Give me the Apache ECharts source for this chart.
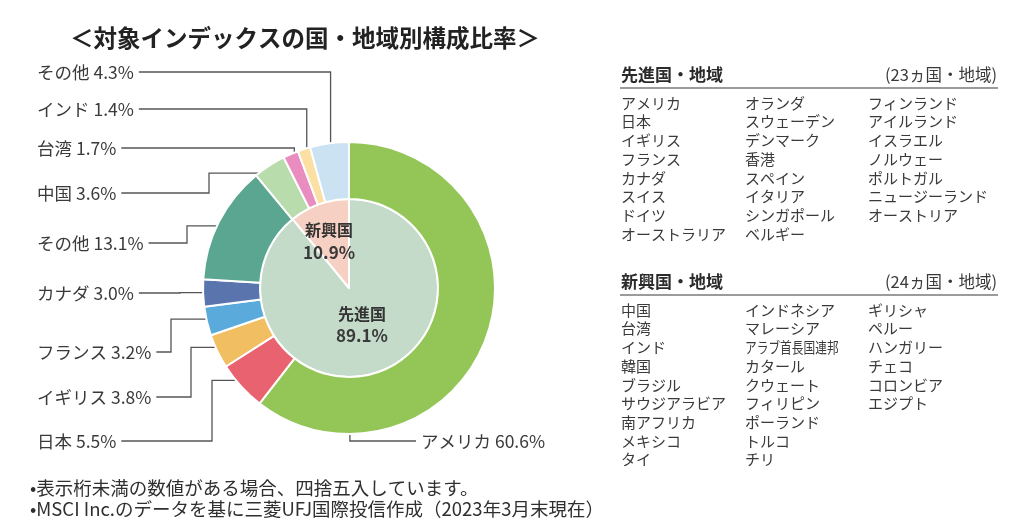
<!DOCTYPE html>
<html><head><meta charset="utf-8">
<script src="https://cdn.jsdelivr.net/npm/echarts@6/dist/echarts.min.js"></script>
<style>html,body{margin:0;padding:0;background:#fff}#c{width:1024px;height:531px}</style>
</head><body><div id="c"></div><script>
// ---- data ----
const titleText = '＜対象インデックスの国・地域別構成比率＞';
const outerNames = ['アメリカ','日本','イギリス','フランス','カナダ','その他','中国','台湾','インド','その他'];
const outerValues = [60.6, 5.5, 3.8, 3.2, 3.0, 13.1, 3.6, 1.7, 1.4, 4.3];
const outerColors = ['#93c656','#e9626f','#f2be62','#5baadc','#5a74ae','#5aa690','#b8dcac','#e98cbf','#fbdfa3','#cbe2f3'];
const innerNames = ['先進国','新興国'];
const innerValues = [89.1, 10.9];
const innerColors = ['#c4dbca','#f6d0c2'];
const devHeader = '先進国・地域';
const devCount = '(23ヵ国・地域)';
const devCountries = ['アメリカ','日本','イギリス','フランス','カナダ','スイス','ドイツ','オーストラリア',
  'オランダ','スウェーデン','デンマーク','香港','スペイン','イタリア','シンガポール','ベルギー',
  'フィンランド','アイルランド','イスラエル','ノルウェー','ポルトガル','ニュージーランド','オーストリア'];
const emgHeader = '新興国・地域';
const emgCount = '(24ヵ国・地域)';
const emgCountries = ['中国','台湾','インド','韓国','ブラジル','サウジアラビア','南アフリカ','メキシコ','タイ',
  'インドネシア','マレーシア','アラブ首長国連邦','カタール','クウェート','フィリピン','ポーランド','トルコ','チリ',
  'ギリシャ','ペルー','ハンガリー','チェコ','コロンビア','エジプト'];
const notes = ['•表示桁未満の数値がある場合、四捨五入しています。',
  '•MSCI Inc.のデータを基に三菱UFJ国際投信作成（2023年3月末現在）'];

// ---- layout ----
const FONT = '"Noto Sans CJK JP","Noto Sans",sans-serif';
const CX = 349, CY = 288, R_IN = 89, R_OUT = 146, R_ANCHOR = 137;
const labelCfg = [
  {x:421, y:441, side:'right', frac:0.825},
  {x:37, y:441, elbow:212},
  {x:37, y:397, elbow:191},
  {x:37, y:352, elbow:171},
  {x:37, y:293, elbow:180},
  {x:37, y:243, elbow:187},
  {x:37, y:193, elbow:209},
  {x:37, y:148},
  {x:37, y:109},
  {x:37, y:72}
];
function anchorFor(i){
  const sum = outerValues.reduce((a,b)=>a+b,0);
  let start = 0; for (let k=0;k<i;k++) start += outerValues[k];
  const f = labelCfg[i].frac != null ? labelCfg[i].frac : 0.5;
  const a = (start + outerValues[i]*f)/sum*2*Math.PI;
  return [CX + R_ANCHOR*Math.sin(a), CY - R_ANCHOR*Math.cos(a)];
}

const graphics = [];
function txt(x,y,text,opt,extra){
  graphics.push(Object.assign({type:'text', x:x, y:y, style:Object.assign({text:text, fill:'#3a3a3a', font:'15px '+FONT, textVerticalAlign:'middle'}, opt||{})}, extra||{}));
}
function block(top, header, count, list, rowsPerCol){
  txt(621, top, header, {font:'bold 17px '+FONT, fill:'#2b2b2b'});
  txt(997, top, count, {font:'16.5px '+FONT, textAlign:'right', fill:'#3a3a3a'});
  graphics.push({type:'line', shape:{x1:620,y1:top+13,x2:998,y2:top+13}, style:{stroke:'#7a7a7a', lineWidth:1.5}});
  const colX = [621, 745, 868];
  list.forEach((s,i)=>{
    const c = Math.floor(i/rowsPerCol), r = i%rowsPerCol;
    const y = top + 28 + r*18.7;
    if (s === 'アラブ首長国連邦') txt(colX[c], y, s, null, {scaleX:0.78});
    else txt(colX[c], y, s);
  });
}
block(75, devHeader, devCount, devCountries, 8);
block(282, emgHeader, emgCount, emgCountries, 9);
notes.forEach((n,i)=>txt(30, 488 + i*20.5, n, {font:'18.5px '+FONT, fill:'#2f2f2f'}));

const chart = echarts.init(document.getElementById('c'));
chart.setOption({
  animation:false,
  title:{text:titleText, left:65, top:21, textStyle:{fontFamily:FONT, fontSize:23.5, fontWeight:'bold', color:'#222'}},
  graphic: graphics,
  series:[
    {
      type:'pie', center:[CX,CY], radius:[0,R_IN], startAngle:90, clockwise:true, silent:true,
      itemStyle:{borderColor:'#fff', borderWidth:2},
      data: innerNames.map((n,i)=>({name:n, value:innerValues[i], itemStyle:{color:innerColors[i]}})),
      label:{position:'inner', formatter:'{n|{b}}\n{v|{c}%}', color:'#333',
        rich:{n:{fontFamily:FONT, fontSize:16, fontWeight:'bold', color:'#333', lineHeight:22, align:'center'},
              v:{fontFamily:FONT, fontSize:17, fontWeight:'bold', color:'#3a3a3a', lineHeight:22, align:'center'}}},
      labelLayout:function(p){ return p.dataIndex===0 ? {dx:-3, dy:-8} : {dx:-4, dy:-2}; },
      labelLine:{show:false}
    },
    {
      type:'pie', center:[CX,CY], radius:[R_IN, R_OUT], startAngle:90, clockwise:true, silent:true,
      avoidLabelOverlap:false,
      itemStyle:{borderColor:'#fff', borderWidth:2},
      data: outerNames.map((n,i)=>({name:n, value:outerValues[i], itemStyle:{color:outerColors[i]}})),
      label:{show:true, position:'outside', fontFamily:FONT, fontSize:17.5, color:'#3a3a3a',
        formatter:p=>p.name+' '+p.value.toFixed(1)+'%'},
      labelLine:{show:true, lineStyle:{color:'#555', width:1.3}},
      labelLayout:function(p){
        const i = p.dataIndex, c = labelCfg[i], w = p.labelRect.width;
        const a = anchorFor(i);
        let pts;
        if (c.side==='right') pts = [[a[0],a[1]],[a[0],c.y],[c.x-5,c.y]];
        else {
          const sx = c.x + w + 5;
          if (c.elbow == null) pts = [[sx,c.y],[a[0],c.y],[a[0],a[1]]];
          else pts = [[sx,c.y],[c.elbow,c.y],[c.elbow,a[1]],[a[0],a[1]]];
        }
        return {x:c.x, y:c.y, align:'left', verticalAlign:'middle', labelLinePoints:pts};
      }
    }
  ]
});
</script></body></html>
